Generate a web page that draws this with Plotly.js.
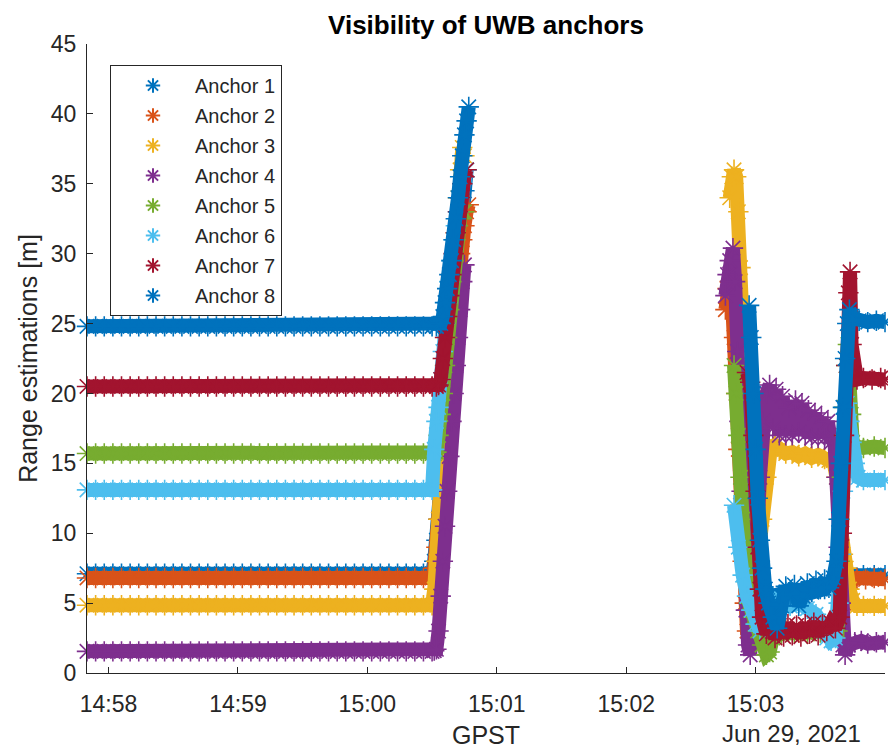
<!DOCTYPE html>
<html>
<head>
<meta charset="utf-8">
<script src="https://cdn.plot.ly/plotly-3.0.1.min.js"></script>
<style>
html,body{margin:0;padding:0;background:#ffffff;}
#chart{width:888px;height:749px;}
</style>
</head>
<body>
<div id="chart"></div>
<script>
// ---- data (time in seconds after 2021-06-29 14:57:50 GPST, ranges in metres) ----
const anchorNames = ['Anchor 1','Anchor 2','Anchor 3','Anchor 4','Anchor 5','Anchor 6','Anchor 7','Anchor 8'];
const anchorColors = ['#0072BD','#D95319','#EDB120','#7E2F8E','#77AC30','#4DBEEE','#A2142F','#0072BD'];
const xTickLabels = ['14:58','14:59','15:00','15:01','15:02','15:03'];
const xTickSec = [10,70,130,190,250,310];
const xRangeSec = [0,370];

// segment A: all anchors visible and static
const tA = [0,4,8,12,16,20,24,28,32,36,40,44,48,52,56,60,64,68,72,76,80,84,88,92,96,100,104,108,112,116,120,124,128,132,136,140,144,148,152,156];
const a1A = [7.1,7.1,7.1,7.1,7.1,7.1,7.1,7.1,7.1,7.1,7.1,7.1,7.1,7.1,7.1,7.1,7.1,7.1,7.1,7.1,7.1,7.1,7.1,7.1,7.1,7.1,7.1,7.1,7.1,7.1,7.1,7.1,7.1,7.1,7.1,7.1,7.1,7.1,7.1,7.1];
const a2A = [6.8,6.8,6.8,6.8,6.8,6.8,6.8,6.8,6.8,6.8,6.8,6.8,6.8,6.8,6.8,6.8,6.8,6.8,6.8,6.8,6.8,6.8,6.8,6.8,6.8,6.8,6.8,6.8,6.8,6.8,6.8,6.8,6.8,6.8,6.8,6.8,6.8,6.8,6.8,6.8];
const a3A = [4.85,4.85,4.85,4.85,4.85,4.85,4.85,4.85,4.85,4.85,4.85,4.85,4.85,4.85,4.85,4.85,4.85,4.85,4.85,4.85,4.85,4.85,4.85,4.85,4.85,4.85,4.85,4.85,4.85,4.85,4.85,4.85,4.85,4.85,4.85,4.85,4.85,4.85,4.85,4.85];
const a4A = [1.55,1.55,1.55,1.55,1.55,1.55,1.55,1.55,1.55,1.55,1.55,1.55,1.55,1.55,1.55,1.55,1.55,1.55,1.55,1.55,1.55,1.55,1.55,1.55,1.55,1.55,1.55,1.55,1.55,1.55,1.55,1.55,1.55,1.55,1.55,1.55,1.55,1.55,1.55,1.55];
const a5A = [15.7,15.7,15.7,15.7,15.7,15.7,15.7,15.7,15.7,15.7,15.7,15.7,15.7,15.7,15.7,15.7,15.7,15.7,15.7,15.7,15.7,15.7,15.7,15.7,15.7,15.7,15.7,15.7,15.7,15.7,15.7,15.7,15.7,15.7,15.7,15.7,15.7,15.7,15.7,15.7];
const a6A = [13.1,13.1,13.1,13.1,13.1,13.1,13.1,13.1,13.1,13.1,13.1,13.1,13.1,13.1,13.1,13.1,13.1,13.1,13.1,13.1,13.1,13.1,13.1,13.1,13.1,13.1,13.1,13.1,13.1,13.1,13.1,13.1,13.1,13.1,13.1,13.1,13.1,13.1,13.1,13.1];
const a7A = [20.5,20.5,20.5,20.5,20.5,20.5,20.5,20.5,20.5,20.5,20.5,20.5,20.5,20.5,20.5,20.5,20.5,20.5,20.5,20.5,20.5,20.5,20.5,20.5,20.5,20.5,20.5,20.5,20.5,20.5,20.5,20.5,20.5,20.5,20.5,20.5,20.5,20.5,20.5,20.5];
const a8A = [24.8,24.8,24.8,24.8,24.8,24.8,24.8,24.8,24.8,24.8,24.8,24.8,24.8,24.8,24.8,24.8,24.8,24.8,24.8,24.8,24.8,24.8,24.8,24.8,24.8,24.8,24.8,24.8,24.8,24.8,24.8,24.8,24.8,24.8,24.8,24.8,24.8,24.8,24.8,24.8];

// segments B (ramp) and C (second visibility window); null = no measurement
const a1T = [160,161,162,163,164,165,166,167,168,169,170,171,172,173,174,175,176,240,308,310,312,314,318,324,330,336,342,346,350,354,360,365,370];
const a1V = [7.1,8,9.5,11,13,15,17,19,21,23,25,27,29,31,33,34.5,36,null,20,14,8,5.5,5.5,5.8,5.5,5.8,6,6.5,6.9,7.0,7.0,7.0,7.0];

const a2T = [160,161,162,163,164,165,166,167,168,169,170,171,172,173,174,175,176,177,240,296,297,298,299,300,301,302,303,304,305,306,308,311,314,318,324,330,336,342,348,351,354,357,361,365,370];
const a2V = [6.8,7.5,9,11,13,15,17,19,21,23,25,27,28.5,30,31,32,33,33.5,null,26,27.5,28,27,24,20,16,12,8,5,3,2.8,3,3.2,3,3.1,2.9,3.1,3,3.2,5,6.5,6.8,6.7,6.8,6.7];

const a3T = [160,161,162,163,164,165,166,167,168,169,170,171,172,173,174,175,240,298,299,300,301,302,303,304,305,306,307,308,309,311,313,315,317,319,321,324,327,330,333,336,339,342,344,346,347.5,349,350.5,352,353.5,355,357,360,365,370];
const a3V = [4.85,6,8,11,14,16.5,19,21.5,24,26.5,29,31.5,34,36,37.6,37,null,34,35.5,36,35.5,33,29,25,20,15,10,7.5,6,8,11,14,16,16.3,16,15.7,15.8,15.5,15.7,15.4,15.6,15.3,15.2,15.2,14,11,8.5,7.5,6,5.2,4.8,4.8,4.8,4.8];

const a4T = [160,161,162,163,164,165,166,167,168,169,170,171,172,173,174,175,240,296,297,298,299.5,300.5,301.5,302.5,303.5,304.5,305.5,306.5,307.5,309,310.5,312,313.5,315,316.5,318,319.5,321,322.5,324,325.5,327,328.5,330,331.5,333,334.5,336,337.5,339,340.5,342,343.5,345,346.5,347.5,348.5,349.5,350.5,351.5,353,356,359,362,366,370];
const a4V = [1.55,1.6,1.7,3,5.5,8,10.5,13,15.5,18,20,22,24,26,28,29.2,null,27,28.5,29.5,30.4,28,23,18,13,8.5,4.5,2,1.3,4,9,14,18,20,20.6,17.5,20.3,17,19.8,17,19,17,19.5,17.2,19.3,17,18.8,16.8,18.6,16.8,18.3,16.8,18,16.5,16.8,14,9,5,2,1.3,2,2.2,2.3,2.1,2.2,2.2];

const a5T = [160,161,162,163,164,165,166,167,168,169,170,171,172,173,174,175,240,300,301,302,303,304,305,306,307,309,311,313,315,316.5,318,322,328,334,340,344,348,349,350,351,352,352.8,353.5,354.3,355,357,360,365,370];
const a5V = [15.7,15.7,15.8,17,18.5,20,22,24,26,28,29.5,31,32,32.5,33,33,null,22,20,17,14,11,8.5,6.5,5,4,3,2,1.3,1.5,2.5,2.8,2.9,2.8,2.9,3,3,8,14,19,22,23.5,21,18.5,16.5,16.2,16.1,16.2,16.1];

const a6T = [160,161,162,163,164,165,166,167,168,169,170,171,172,173,174,175,176,240,300,302,304,306,308,310,312,314,316,318,322,326,330,334,338,341,343,345,347,348.5,349.5,350.5,351.5,352.5,353.5,354.5,356,357.5,360,365,370];
const a6V = [13.1,16,18,19,21,23,25,26.5,28,29.5,31,32,33,34,35,35.5,36,null,12,9,7,5.5,4.5,3.5,3,3.5,4,5,5.3,4.8,5,4.6,4.2,3.5,2.5,2.3,2.5,5,8.5,13,17,19.3,18,16.5,15,14,13.8,13.8,13.8];

const a7T = [160,162,163,164,165,166,167,168,169,170,171,172,173,174,175,176,240,306,307.5,309,310,311,312,313,315,317,319,321,323,325,327,329,331,333,335,337,339,341,343,345,347,349,350,351,352,353,353.8,354.5,355.5,357,360,364,368,370];
const a7V = [20.5,20.5,20.6,21,22.5,24,25.5,27,28.5,30,31.5,33,34,35,35.5,36,null,21.5,20.8,17,13,9,6,4,2.8,3.4,2.5,3.4,2.6,3.5,2.7,3.4,2.6,3.5,2.8,3.6,2.7,3.5,3,3.6,3.2,4,10,17,22,27.2,28.7,23.5,21.5,21,21.1,21,21.1,21];

const a8T = [160,162,164,165,166,167,168,169,170,171,172,173,174,175,176,177,240,307,308,309,310,311,312,313,314.5,316,318,320,322,324,326,328,330,332,334,336,338,340,342,344,346,347.5,348.5,349.5,350.5,351.5,352.5,353.5,355,358,362,366,370];
const a8V = [24.8,24.8,25,25.5,26.5,27.5,28.5,29.5,31,32.5,34,35.5,37,38.5,39.5,40.5,null,26.3,24,20,16,12.5,9.5,7.5,6,5,4,3.2,4.8,6.2,5.6,6.3,4.8,5.5,6.4,5.8,6.6,6,6.7,6.1,6.8,8,11,15,19,22.5,25,26,25.4,25.2,25.1,25.2,25.1];

// ---- build ----
const t0 = Date.UTC(2021, 5, 29, 14, 57, 50);
const toMs = s => t0 + s * 1000;
const segA = [a1A,a2A,a3A,a4A,a5A,a6A,a7A,a8A];
const segT = [a1T,a2T,a3T,a4T,a5T,a6T,a7T,a8T];
const segV = [a1V,a2V,a3V,a4V,a5V,a6V,a7V,a8V];

const textColor = '#262626';
const FONT = 'Liberation Sans, Arial, Helvetica, sans-serif';
const traces = [];
for (let k = 0; k < 8; k++) {
  const xs = tA.concat(segT[k]).map(toMs);
  const ys = segA[k].concat(segV[k]);
  traces.push({
    x: xs, y: ys, type: 'scatter', mode: 'lines',
    line: {color: anchorColors[k], width: 14},
    connectgaps: false, showlegend: false, hoverinfo: 'skip'
  });
  traces.push({
    x: xs, y: ys, type: 'scatter', mode: 'markers', name: anchorNames[k],
    legendgroup: 'g' + k, cliponaxis: false,
    marker: {symbol: 'asterisk-open', size: 17, color: anchorColors[k],
             line: {color: anchorColors[k], width: 1.6}}
  });
}

const layout = {
  width: 888, height: 749,
  margin: {l: 87, r: 3, t: 44, b: 76, pad: 0},
  paper_bgcolor: '#ffffff', plot_bgcolor: '#ffffff',
  font: {family: FONT, color: textColor, size: 20},
  title: {text: '<b>Visibility of UWB anchors</b>', x: 0.5, xref: 'paper', xanchor: 'center',
          y: 1 - 25/749, yref: 'container', yanchor: 'middle',
          font: {family: FONT, size: 26, color: '#000000'}},
  xaxis: {
    type: 'date', range: xRangeSec.map(toMs),
    tickvals: xTickSec.map(toMs), ticktext: xTickLabels,
    ticks: 'inside', ticklen: 6, tickwidth: 1, tickcolor: textColor,
    showline: true, linecolor: textColor, linewidth: 1, mirror: false,
    showgrid: false, zeroline: false, ticklabelstandoff: 10,
    tickfont: {family: FONT, size: 23, color: textColor},
    title: {text: 'GPST', font: {family: FONT, size: 25, color: textColor}, standoff: 10}
  },
  yaxis: {
    range: [0, 45], tick0: 0, dtick: 5,
    ticks: 'inside', ticklen: 6, tickwidth: 1, tickcolor: textColor,
    showline: true, linecolor: textColor, linewidth: 1,
    showgrid: false, zeroline: false, ticklabelstandoff: 5,
    tickfont: {family: FONT, size: 23, color: textColor},
    title: {text: 'Range estimations [m]', font: {family: FONT, size: 25, color: textColor}, standoff: 6}
  },
  legend: {
    x: (110-87)/798, y: (673-65)/629, xanchor: 'left', yanchor: 'top',
    bgcolor: '#ffffff', bordercolor: textColor, borderwidth: 1,
    font: {family: FONT, size: 20, color: textColor},
    itemwidth: 74, tracegroupgap: 1, itemsizing: 'constant', entrywidth: 105
  },
  annotations: [{
    text: 'Jun 29, 2021', xref: 'paper', yref: 'paper', x: (863-87)/798, y: (673-733)/629,
    xanchor: 'right', yanchor: 'middle', showarrow: false,
    font: {family: FONT, size: 24, color: textColor}
  }],
  showlegend: true
};

Plotly.newPlot('chart', traces, layout, {displayModeBar: false, responsive: false});
</script>
</body>
</html>
